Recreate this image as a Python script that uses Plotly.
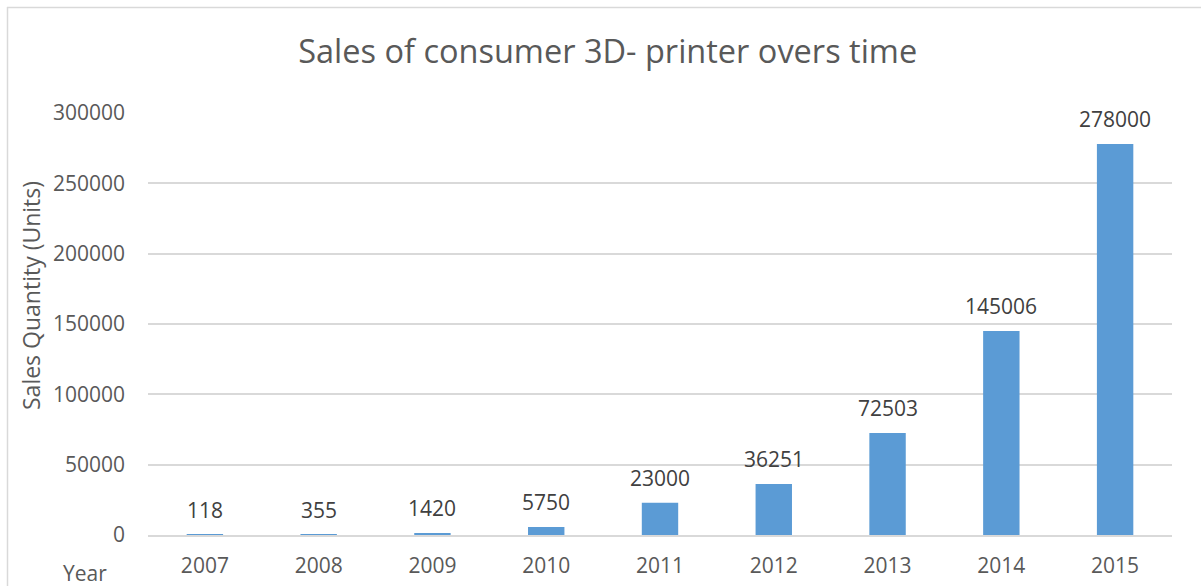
import plotly.graph_objects as go

years = ["2007", "2008", "2009", "2010", "2011", "2012", "2013", "2014", "2015"]
sales = [118, 355, 1420, 5750, 23000, 36251, 72503, 145006, 278000]
y_ticks = [0, 50000, 100000, 150000, 200000, 250000, 300000]

W, H = 1201, 586
L, R, T, B = 148, 29, 113, 51
pw = W - L - R
ph = H - T - B

font = "Open Sans"
fig = go.Figure()
fig.add_trace(go.Bar(
    x=years, y=sales,
    marker=dict(color="#5B9BD5", line=dict(width=0)),
    hoverinfo="x+y",
))

# data labels above bars (category index positions)
for i, v in enumerate(sales):
    fig.add_annotation(x=i, y=v, text=str(v), showarrow=False,
                       yanchor="middle", yshift=25,
                       font=dict(family=font, size=21, color="#404040"))

fig.add_annotation(xref="paper", yref="paper", x=(85 - L) / pw, y=-(573 - T - ph) / ph,
                   text="Year", showarrow=False, xanchor="center", yanchor="middle",
                   font=dict(family=font, size=21, color="#595959"))

# y-axis title
fig.add_annotation(xref="paper", yref="paper", x=(31 - L) / pw, y=(H - B - 296) / ph,
                   text="Sales Quantity (Units)", textangle=-90, showarrow=False,
                   xanchor="center", yanchor="middle",
                   font=dict(family=font, size=23, color="#595959"))

# chart border (top and left)
fig.add_shape(type="line", xref="paper", yref="paper",
              x0=(7 - L) / pw, x1=(W + 5 - L) / pw, y0=(H - 7.5 - B) / ph, y1=(H - 7.5 - B) / ph,
              line=dict(color="#D9D9D9", width=1.5))
fig.add_shape(type="line", xref="paper", yref="paper",
              x0=(7.5 - L) / pw, x1=(7.5 - L) / pw, y0=(H - 7 - B) / ph, y1=-(B + 5) / ph,
              line=dict(color="#D9D9D9", width=1.5))

fig.update_layout(
    width=W, height=H,
    margin=dict(l=L, r=R, t=T, b=B, pad=0, autoexpand=False),
    paper_bgcolor="white", plot_bgcolor="white",
    bargap=0.68,
    showlegend=False,
    title=dict(text="Sales of consumer 3D- printer overs time", x=0.506, xanchor="center",
               y=(H - 52) / H, yanchor="middle",
               font=dict(family=font, size=32.5, color="#595959")),
    xaxis=dict(type="category", range=[-0.5, len(years) - 0.5], automargin=False,
               showgrid=False, showline=True, linecolor="#D9D9D9", linewidth=1.5,
               ticks="", ticklabelstandoff=11,
               tickfont=dict(family=font, size=21, color="#595959")),
    yaxis=dict(range=[0, 300000], tickvals=y_ticks, tickformat="d", showgrid=True, gridcolor="#D9D9D9",
               gridwidth=1.5, zeroline=False, showline=False, ticks="", automargin=False,
               ticklabelstandoff=22,
               tickfont=dict(family=font, size=21, color="#595959")),
)

fig.write_html("out.html")
